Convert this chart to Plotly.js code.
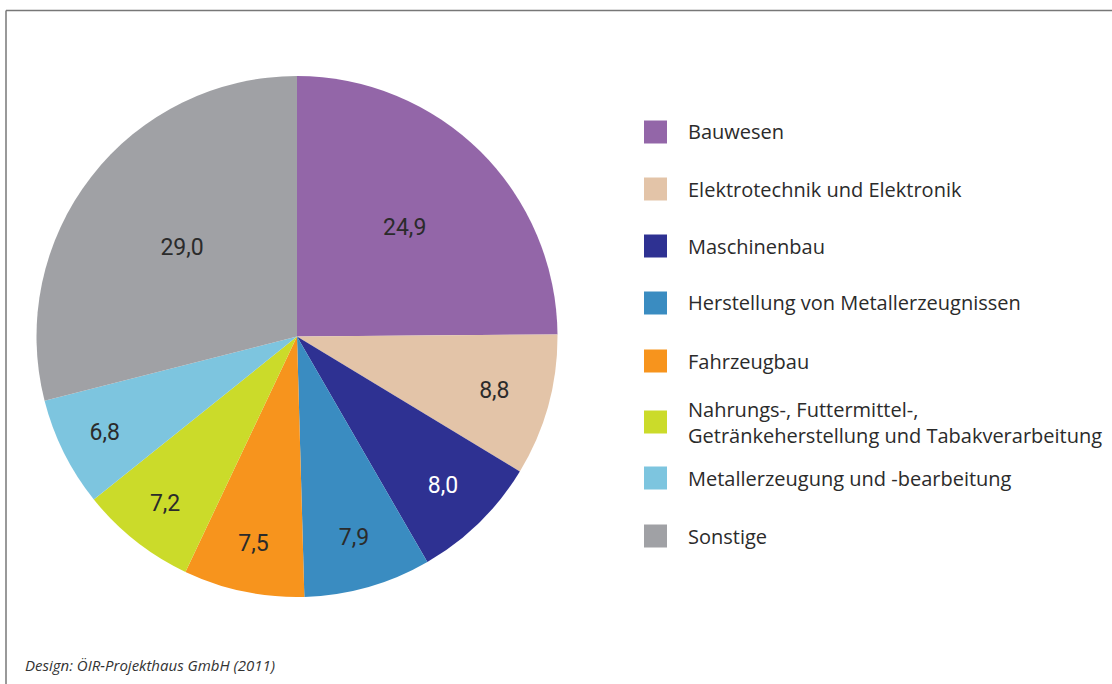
<!DOCTYPE html>
<html>
<head>
<meta charset="utf-8">
<script src="https://cdn.plot.ly/plotly-3.0.1.min.js"></script>
<style>html,body{margin:0;padding:0;background:#fff;}#chart{width:1112px;height:684px;}</style>
</head>
<body>
<div id="chart"></div>
<script>
const categories = ["Bauwesen", "Elektrotechnik und Elektronik", "Maschinenbau", "Herstellung von Metallerzeugnissen", "Fahrzeugbau", "Nahrungs-, Futtermittel-,<br>Getränkeherstellung und Tabakverarbeitung", "Metallerzeugung und -bearbeitung", "Sonstige"];
const values = [24.9, 8.8, 8.0, 7.9, 7.5, 7.2, 6.8, 29.0];
const valueLabels = ["24,9", "8,8", "8,0", "7,9", "7,5", "7,2", "6,8", "29,0"];
const colors = ["#9366a8", "#e3c4a8", "#2e3192", "#3a8cc1", "#f7941d", "#cbdb2a", "#7dc5df", "#a0a1a5"];
const textColors = ["#2b2b2b", "#2b2b2b", "#ffffff", "#2b2b2b", "#2b2b2b", "#2b2b2b", "#2b2b2b", "#2b2b2b"];
const source = "Design: ÖIR-Projekthaus GmbH (2011)";

const W = 1112, H = 684;
const px = x => x / W, py = y => 1 - y / H;

const legendY = [132, 189, 246, 303, 361, 422, 478, 536];
const shapes = [
  {type: "line", xref: "paper", yref: "paper", x0: px(6), x1: px(1112), y0: py(10.5), y1: py(10.5), line: {color: "#777", width: 1.5}},
  {type: "line", xref: "paper", yref: "paper", x0: px(6), x1: px(6), y0: py(10.5), y1: py(684), line: {color: "#777", width: 1.5}}
];
const annotations = [];
categories.forEach((c, i) => {
  shapes.push({type: "rect", xref: "paper", yref: "paper", x0: px(644), x1: px(667), y0: py(legendY[i] - 11.5), y1: py(legendY[i] + 11.5), fillcolor: colors[i], line: {width: 0}});
  annotations.push({xref: "paper", yref: "paper", x: px(686), y: py(legendY[i]), xanchor: "left", yanchor: "middle", text: c, showarrow: false, align: "left", font: {family: "Open Sans", size: 20, color: "#2b2b2b"}});
});
annotations.push({xref: "paper", yref: "paper", x: px(23), y: py(665), xanchor: "left", yanchor: "middle", text: "<i>" + source + "</i>", showarrow: false, font: {family: "Open Sans", size: 15, color: "#333"}});

const trace = {
  type: "pie",
  labels: categories,
  values: values,
  text: valueLabels,
  textinfo: "text",
  textposition: "inside",
  insidetextorientation: "horizontal",
  sort: false,
  direction: "clockwise",
  rotation: 0,
  marker: {colors: colors, line: {width: 0}},
  insidetextfont: {family: "Roboto", size: 23, color: textColors},
  hoverinfo: "none",
  domain: {x: [px(36), px(558)], y: [py(597), py(76)]}
};

Plotly.newPlot("chart", [trace], {
  width: W, height: H,
  margin: {l: 0, r: 0, t: 0, b: 0},
  paper_bgcolor: "#fff",
  showlegend: false,
  shapes: shapes,
  annotations: annotations
}, {displayModeBar: false, staticPlot: true});
</script>
</body>
</html>
